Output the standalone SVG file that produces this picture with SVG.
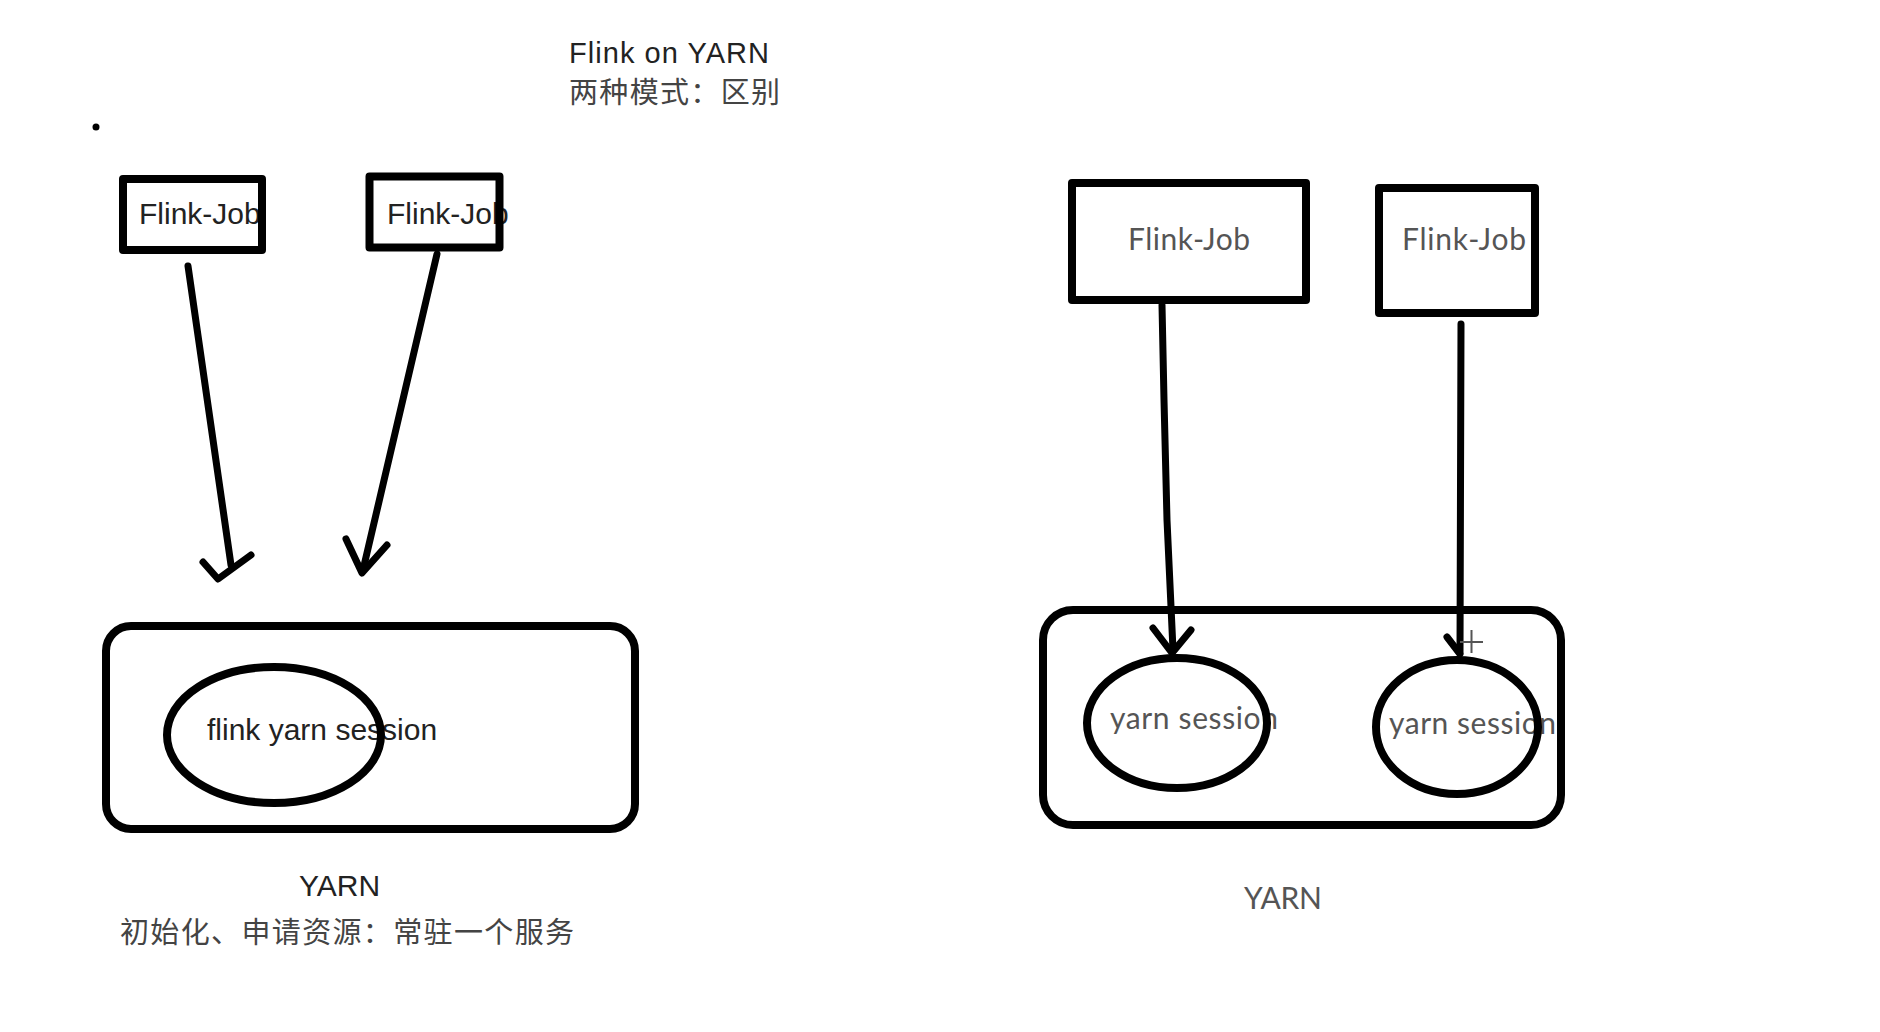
<svg xmlns="http://www.w3.org/2000/svg" width="1880" height="1032" viewBox="0 0 1880 1032">
<style>
.shape{fill:none;stroke:#000;stroke-width:8;stroke-linejoin:round}
.line{fill:none;stroke:#000;stroke-width:7;stroke-linecap:round;stroke-linejoin:round}
.t{font-family:"Liberation Sans",Arial,sans-serif;font-size:29px;fill:#222}
.tl{font-family:"Liberation Sans",Arial,sans-serif;font-size:30px;fill:#222}
.cjk{font-family:"Liberation Sans","Noto Sans CJK SC",sans-serif;font-size:29px;fill:#444}
.g{font-family:Lato,"Open Sans",sans-serif;font-size:30px;fill:#555}
</style>
<rect width="1880" height="1032" fill="#fff"/>
<g id="title">
<text class="t" x="569" y="63" textLength="200">Flink on YARN</text>
<text class="cjk" x="569" y="103" textLength="211">两种模式：区别</text>
</g>
<circle id="dot" cx="96" cy="127" r="3.5" fill="#000"/>
<g id="job1">
<text class="tl" x="139" y="224">Flink-Job</text>
<rect class="shape" x="123" y="179" width="139" height="71" stroke-width="7"/>
</g>
<g id="job2">
<text class="tl" x="387" y="224">Flink-Job</text>
<rect class="shape" x="369.5" y="176.5" width="130" height="71" stroke-width="7"/>
</g>
<g id="yarn-left">
<rect class="shape" x="106" y="626" width="529" height="203" rx="25"/>
<text class="tl" x="299" y="896">YARN</text>
<text class="cjk" x="120" y="943" font-size="30" textLength="454">初始化、申请资源：常驻一个服务</text>
</g>
<g id="session-left">
<text class="tl" x="207" y="740">flink yarn session</text>
<ellipse class="shape" cx="274" cy="735" rx="107" ry="68"/>
</g>
<g id="job3">
<text class="g" x="1128" y="250" textLength="122">Flink-Job</text>
<rect class="shape" x="1072" y="183" width="234" height="117"/>
</g>
<g id="job4">
<text class="g" x="1402" y="250" textLength="124">Flink-Job</text>
<rect class="shape" x="1379" y="188" width="156" height="125"/>
</g>
<g id="yarn-right">
<rect class="shape" x="1043" y="610" width="518" height="215" rx="30"/>
<text class="g" x="1244" y="909" font-size="28" textLength="78">YARN</text>
</g>
<g id="session-r1">
<text class="g" x="1110" y="729" textLength="168">yarn session</text>
<ellipse class="shape" cx="1177" cy="723" rx="90" ry="65"/>
</g>
<g id="session-r2">
<text class="g" x="1389" y="734" textLength="167">yarn session</text>
<ellipse class="shape" cx="1457" cy="727" rx="81" ry="67"/>
</g>
<g id="connectors">
<path class="line" d="M188 266 L231 565"/>
<path class="line" d="M203 562 L218 579 L251 555"/>
<path class="line" d="M437 254 L363 570"/>
<path class="line" d="M346 539 L362 573 L387 545"/>
<path class="line" d="M1162 305 L1164 400 L1167 520 L1173 650"/>
<path class="line" d="M1153 628 L1172 653 L1191 630"/>
<path class="line" d="M1461 324 L1460 652"/>
<path class="line" d="M1447 637 L1460 654"/>
</g>
<path id="cursor" d="M1471.5 630 V653 M1460 642 H1483" stroke="#555" stroke-width="2" fill="none"/>
</svg>
